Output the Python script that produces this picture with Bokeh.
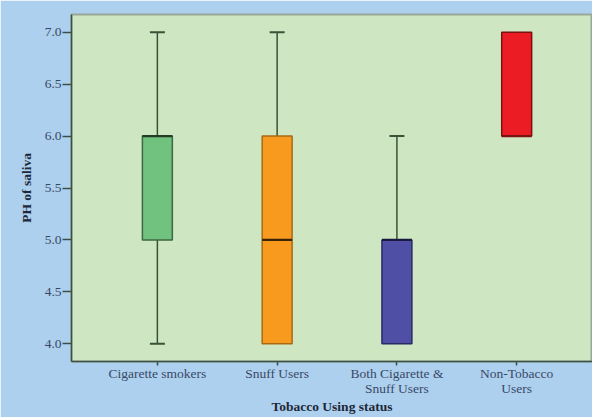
from bokeh.plotting import figure
from bokeh.models import FixedTicker, Range1d
from bokeh.embed import file_html
from bokeh.resources import INLINE

categories = ["Cigarette smokers", "Snuff Users", "Both Cigarette &\nSnuff Users", "Non-Tobacco\nUsers"]
x_pos = [1, 2, 3, 4]
mins = [4.0, 4.0, 4.0, 6.0]
q1s = [5.0, 4.0, 4.0, 6.0]
medians = [6.0, 5.0, 5.0, 6.0]
q3s = [6.0, 6.0, 5.0, 7.0]
maxs = [7.0, 7.0, 6.0, 7.0]
y_ticks = [4.0, 4.5, 5.0, 5.5, 6.0, 6.5, 7.0]

fills = ["#70c27e", "#f89a1e", "#4f4fa6", "#ec1c24"]
edges = ["#3b6a3e", "#a86a14", "#2a2a66", "#7a1212"]
median_cols = ["#233a23", "#3a2408", "#1a1a40", "#7a1212"]

SERIF = "Liberation Serif"

p = figure(width=592, height=417, output_backend="svg", toolbar_location=None,
           x_range=Range1d(0.283, 4.633), y_range=Range1d(3.83, 7.17),
           min_border_left=71, min_border_right=0, min_border_top=14, min_border_bottom=56)
p.border_fill_color = "#acd0ee"
p.background_fill_color = "#cee7c2"
p.outline_line_color = "#98a898"
p.outline_line_width = 2
p.grid.visible = False

# whiskers
wx, wy0, wy1 = [], [], []
cx, cy = [], []
for i, x in enumerate(x_pos):
    if maxs[i] > q3s[i]:
        wx.append(x); wy0.append(q3s[i]); wy1.append(maxs[i])
        cx.append(x); cy.append(maxs[i])
    if mins[i] < q1s[i]:
        wx.append(x); wy0.append(mins[i]); wy1.append(q1s[i])
        cx.append(x); cy.append(mins[i])
p.segment(x0=wx, y0=wy0, x1=wx, y1=wy1, line_color="#3a5238", line_width=1.5)
p.segment(x0=[x - 0.0625 for x in cx], y0=cy, x1=[x + 0.0625 for x in cx], y1=cy,
          line_color="#3a5238", line_width=2)

# boxes
p.vbar(x=x_pos, bottom=q1s, top=q3s, width=0.25, fill_color=fills,
       line_color=edges, line_width=1.5)
# medians
p.segment(x0=[x - 0.125 for x in x_pos], y0=medians, x1=[x + 0.125 for x in x_pos], y1=medians,
          line_color=median_cols, line_width=2.2)

p.xaxis.ticker = FixedTicker(ticks=x_pos)
p.xaxis.major_label_overrides = {x: c for x, c in zip(x_pos, categories)}
p.yaxis.ticker = FixedTicker(ticks=y_ticks)
p.yaxis.major_label_overrides = {t: f"{t:.1f}" for t in y_ticks}

for ax in (p.xaxis[0], p.yaxis[0]):
    ax.axis_line_color = "#3c5048"
    ax.axis_line_width = 1.5
    ax.major_tick_line_color = "#3c5048"
    ax.major_tick_line_width = 1.5
    ax.major_tick_in = 0
    ax.minor_tick_line_color = None
    ax.major_label_text_font = SERIF
    ax.major_label_text_font_size = "13.5px"
    ax.major_label_text_color = "#3a4866"
    ax.major_label_text_line_height = 1.0
    ax.axis_label_text_font = SERIF
    ax.axis_label_text_font_style = "bold"
    ax.axis_label_text_font_size = "13.5px"
    ax.axis_label_text_color = "#1e2838"
    ax.axis_label_text_line_height = 1.0

p.xaxis.major_tick_out = 4
p.yaxis.major_tick_out = 9
p.xaxis.axis_label = "Tobacco Using status"
p.yaxis.axis_label = "PH of saliva"
p.xaxis.major_label_standoff = 0
p.xaxis.axis_label_standoff = 0
p.yaxis.major_label_standoff = 1
p.yaxis.axis_label_standoff = 8

open("out.html", "w").write(file_html(p, INLINE))
